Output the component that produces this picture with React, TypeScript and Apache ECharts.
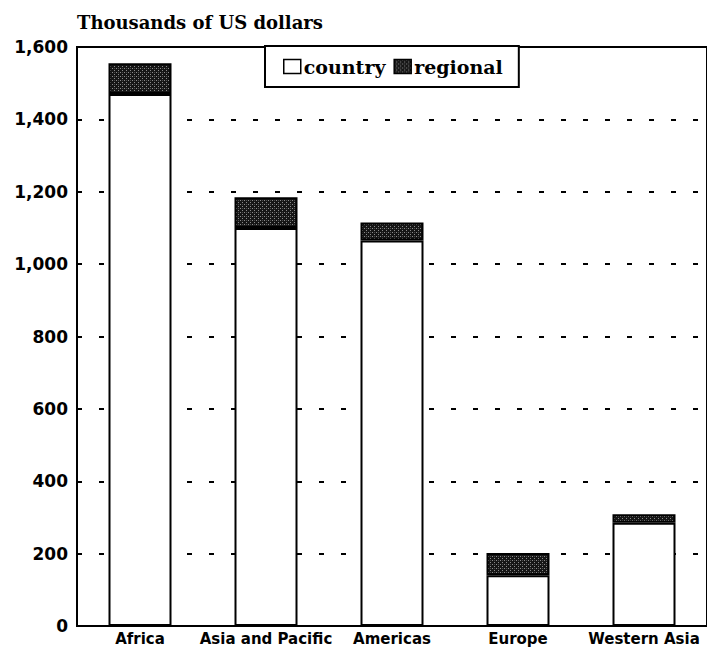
import React, { useEffect, useRef } from "react";
import * as echarts from "echarts";

const categories = ["Africa", "Asia and Pacific", "Americas", "Europe", "Western Asia"];
const countryValues = [1470, 1100, 1065, 140, 285];
const regionalValues = [85, 85, 50, 62, 24];
const yTicks = { min: 0, max: 1600, interval: 200 };
const titleText = "Thousands of US dollars";
const seriesNames = ["country", "regional"];

function makePattern(): HTMLCanvasElement {
  const c = document.createElement("canvas");
  c.width = 4;
  c.height = 4;
  const ctx = c.getContext("2d")!;
  ctx.fillStyle = "#161616";
  ctx.fillRect(0, 0, 4, 4);
  ctx.fillStyle = "#8a8a8a";
  ctx.fillRect(0, 0, 1, 1);
  ctx.fillRect(2, 2, 1, 1);
  ctx.fillStyle = "#4a4a4a";
  ctx.fillRect(2, 0, 1, 1);
  return c;
}

export default function App() {
  const ref = useRef<HTMLDivElement>(null);
  useEffect(() => {
    document.body.style.margin = "0";
    if (!ref.current) return;
    const chart = echarts.init(ref.current, undefined, { renderer: "svg" });
    const pattern = makePattern();
    chart.setOption({
      animation: false,
      backgroundColor: "#fff",
      title: {
        text: titleText,
        left: 72,
        top: 8,
        textStyle: {
          fontFamily: "DejaVu Serif",
          fontWeight: "bold",
          fontSize: 18,
          color: "#000",
        },
      },
      legend: {
        data: seriesNames,
        icon: "rect",
        left: 265,
        top: 46,
        orient: "horizontal",
        padding: [11, 16, 11, 18],
        itemGap: 8,
        itemWidth: 17,
        itemHeight: 14,
        borderColor: "#000",
        borderWidth: 2,
        backgroundColor: "#fff",
        textStyle: {
          fontFamily: "DejaVu Serif",
          fontWeight: "bold",
          fontSize: 19,
          color: "#000",
          padding: [0, 0, 0, -2],
        },
        itemStyle: { borderColor: "#000", borderWidth: 1.5 },
      },
      grid: {
        left: 77,
        top: 47,
        right: -10,
        bottom: 24,
        show: true,
        borderColor: "#000",
        borderWidth: 2,
        backgroundColor: "transparent",
      },
      xAxis: {
        type: "category",
        data: categories,
        boundaryGap: true,
        axisLine: { show: true, lineStyle: { color: "#000", width: 2 } },
        axisTick: { show: false },
        axisLabel: {
          interval: 0,
          margin: 5,
          color: "#000",
          fontFamily: "DejaVu Sans",
          fontWeight: "bold",
          fontSize: 15,
        },
        splitLine: { show: false },
      },
      yAxis: {
        type: "value",
        min: yTicks.min,
        max: yTicks.max,
        interval: yTicks.interval,
        axisLine: { show: true, lineStyle: { color: "#000", width: 2 } },
        axisTick: { show: false },
        axisLabel: {
          margin: 9,
          color: "#000",
          fontFamily: "DejaVu Sans",
          fontWeight: "bold",
          fontSize: 17,
          formatter: (v: number) => v.toLocaleString("en-US"),
        },
        splitLine: {
          show: true,
          lineStyle: { color: "#000", width: 2, type: [5, 17] },
        },
      },
      series: [
        {
          name: seriesNames[0],
          type: "bar",
          stack: "total",
          data: countryValues,
          barWidth: 63,
          itemStyle: { color: "#fff", borderColor: "#000", borderWidth: 2 },
          z: 3,
        },
        {
          name: seriesNames[1],
          type: "bar",
          stack: "total",
          data: regionalValues,
          barWidth: 63,
          itemStyle: {
            color: { image: pattern, repeat: "repeat" },
            borderColor: "#000",
            borderWidth: 2,
          },
          z: 3,
        },
      ],
    });
    return () => chart.dispose();
  }, []);
  return <div ref={ref} style={{ width: 707, height: 650 }} />;
}
